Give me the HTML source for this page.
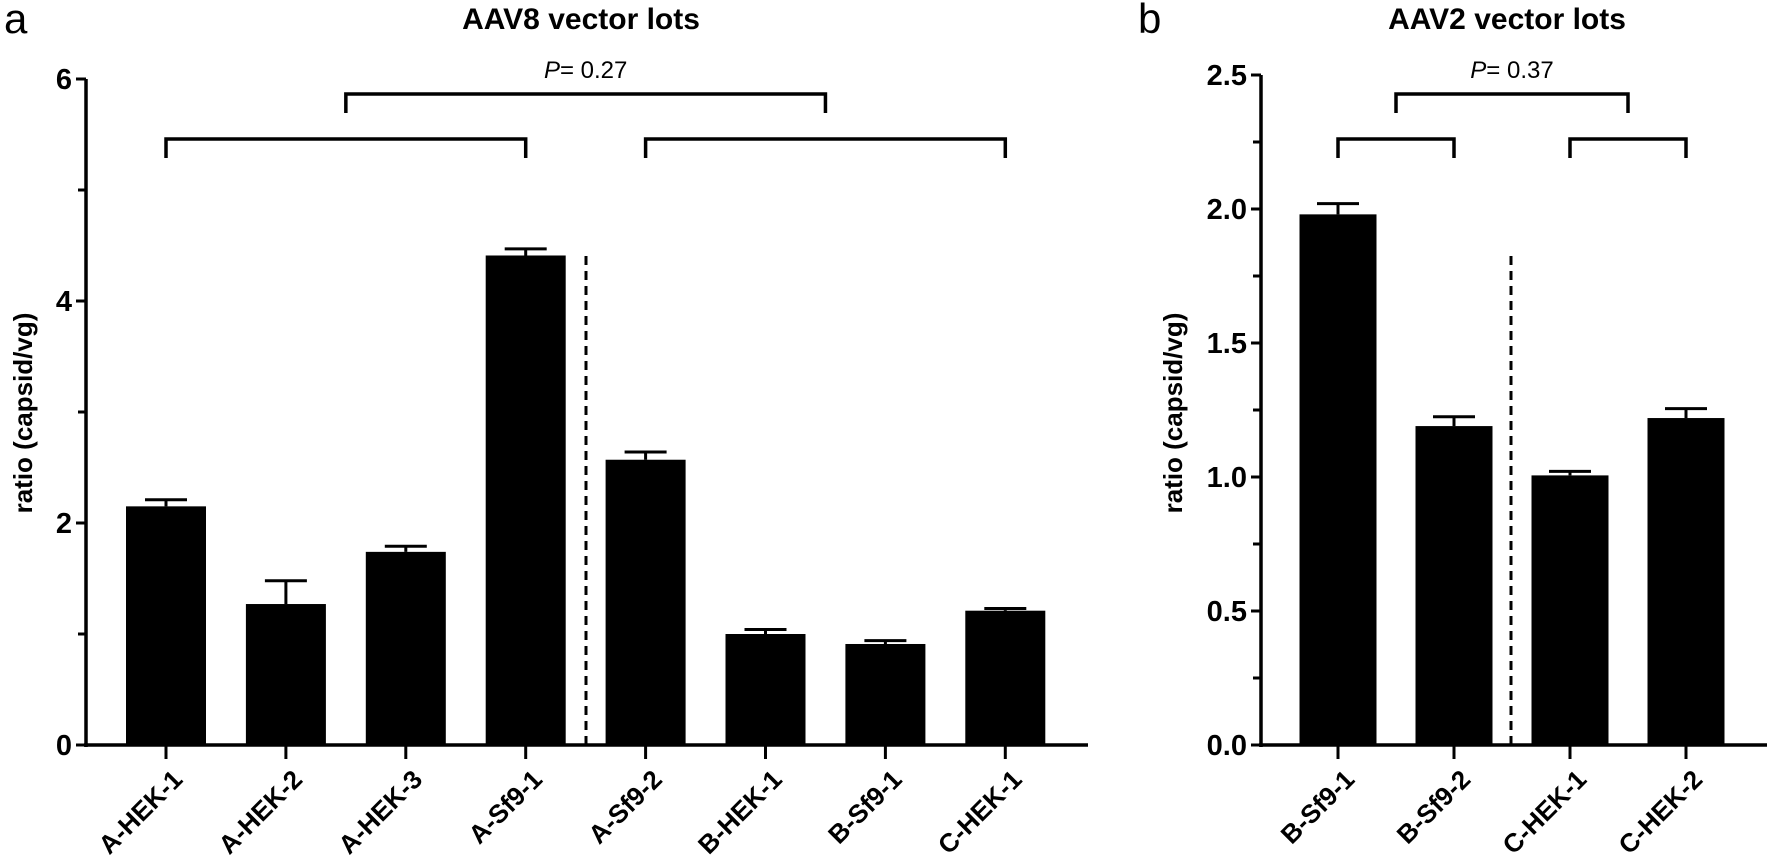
<!DOCTYPE html>
<html><head><meta charset="utf-8"><style>
html,body{margin:0;padding:0;background:#fff}
svg{display:block;font-family:"Liberation Sans",Arial,sans-serif}
</style></head><body>
<svg id="chart" width="1770" height="863" viewBox="0 0 1770 863" xmlns="http://www.w3.org/2000/svg"></svg>
<script>
const catsA = ["A-HEK-1","A-HEK-2","A-HEK-3","A-Sf9-1","A-Sf9-2","B-HEK-1","B-Sf9-1","C-HEK-1"];
const valsA = [2.15,1.27,1.74,4.41,2.57,1.00,0.91,1.21];
const errA  = [0.06,0.21,0.05,0.06,0.07,0.04,0.03,0.02];
const ticksA = [0,2,4,6];
const catsB = ["B-Sf9-1","B-Sf9-2","C-HEK-1","C-HEK-2"];
const valsB = [1.98,1.19,1.006,1.22];
const errB  = [0.04,0.035,0.015,0.035];
const ticksB = [0,0.5,1.0,1.5,2.0,2.5];
const pA = "0.27", pB = "0.37";

const svg = document.getElementById('chart');
const NS = "http://www.w3.org/2000/svg";
function mk(tag, attrs, parent){const e=document.createElementNS(NS,tag);for(const k in attrs)e.setAttribute(k,attrs[k]);(parent||svg).appendChild(e);return e;}

function panel(cfg){
  const g = mk('g',{});
  
  
  const y = v => cfg.y0 - (v - 0) * (cfg.y0 - cfg.yTop) / cfg.yMax;
  const x = i => cfg.c0 + i * cfg.step;
  cfg.cats.forEach((c,i)=>{
    const r = mk('rect',{x:x(i)-cfg.bw/2,y:y(cfg.vals[i]),width:cfg.bw,height:cfg.y0-y(cfg.vals[i]),fill:'#000'},g);
    
    
    const e = mk('path',{d:`M${x(i)} ${y(cfg.vals[i])} V${y(cfg.vals[i]+cfg.errs[i])} M${x(i)-21} ${y(cfg.vals[i]+cfg.errs[i])} H${x(i)+21}`,stroke:'#000','stroke-width':3,fill:'none'},g);
    
    
    mk('line',{x1:x(i),x2:x(i),y1:cfg.y0,y2:cfg.y0+14,stroke:'#000','stroke-width':3},g);
    const lx = x(i)+18, ly = cfg.y0+36;
    const t = mk('text',{x:lx,y:ly,'text-anchor':'end','font-size':26,'font-weight':'bold',transform:`rotate(-45 ${lx} ${ly})`},g);
    t.textContent = c;
    
    
  });
  const ya = mk('line',{x1:cfg.ax,x2:cfg.ax,y1:y(cfg.yMax),y2:cfg.y0+2,stroke:'#000','stroke-width':3.5},g);
  
  
  const xa = mk('line',{x1:cfg.ax-2,x2:cfg.axEnd,y1:cfg.y0,y2:cfg.y0,stroke:'#000','stroke-width':3.5},g);
  
  
  cfg.ticks.forEach((v,i)=>{
    mk('line',{x1:cfg.ax-10,x2:cfg.ax,y1:y(v),y2:y(v),stroke:'#000','stroke-width':3},g);
    if(i<cfg.ticks.length-1){const m=(v+cfg.ticks[i+1])/2;mk('line',{x1:cfg.ax-8,x2:cfg.ax,y1:y(m),y2:y(m),stroke:'#000','stroke-width':3},g);}
    const t = mk('text',{x:cfg.ax-14,y:y(v)+10,'text-anchor':'end','font-size':29,'font-weight':'bold'},g);
    t.textContent = cfg.fmt(v);
    
    
  });
  const yt = mk('text',{x:cfg.ytx,y:413,'text-anchor':'middle','font-size':26,'font-weight':'bold',transform:`rotate(-90 ${cfg.ytx} 413)`},g);
  yt.textContent='ratio (capsid/vg)';
  
  
  const d = mk('line',{x1:cfg.dash,x2:cfg.dash,y1:256,y2:cfg.y0,stroke:'#000','stroke-width':3,'stroke-dasharray':'9 6'},g);
  
  
  const h = cfg.cats.length/2;
  const l1=x(0), r1=x(h-1), l2=x(h), r2=x(cfg.cats.length-1);
  [[l1,r1],[l2,r2]].forEach(([a,b])=>{
    const br = mk('path',{d:`M${a} 158 V139 H${b} V158`,stroke:'#000','stroke-width':3.5,fill:'none'},g);
    
    
  });
  const m1=(l1+r1)/2, m2=(l2+r2)/2;
  const pb = mk('path',{d:`M${m1} 113 V94 H${m2} V113`,stroke:'#000','stroke-width':3.5,fill:'none'},g);
  
  
  const pt = mk('text',{x:(m1+m2)/2,y:78,'text-anchor':'middle','font-size':24},g);
  pt.innerHTML = '<tspan font-style="italic">P</tspan>= '+cfg.p;
  
  
  const tt = mk('text',{x:cfg.tx,y:29,'text-anchor':'middle','font-size':30,'font-weight':'bold'},g);
  tt.textContent = cfg.title;
  
  
  const lt = mk('text',{x:cfg.lx,y:33,'font-size':42},g);
  lt.textContent = cfg.letter;
  
  
}

panel({name:'panel-a',cats:catsA,vals:valsA,errs:errA,ticks:ticksA,yMax:6,y0:745,yTop:79,
  c0:166,step:119.9,bw:80,ax:86,axEnd:1088,ytx:32,dash:586,p:pA,title:'AAV8 vector lots',tx:581,lx:4,letter:'a',fmt:v=>String(v)});
panel({name:'panel-b',cats:catsB,vals:valsB,errs:errB,ticks:ticksB,yMax:2.5,y0:745,yTop:75,
  c0:1338,step:116,bw:77,ax:1261,axEnd:1767,ytx:1182,dash:1511,p:pB,title:'AAV2 vector lots',tx:1507,lx:1138,letter:'b',fmt:v=>v.toFixed(1)});
</script>
</body></html>
